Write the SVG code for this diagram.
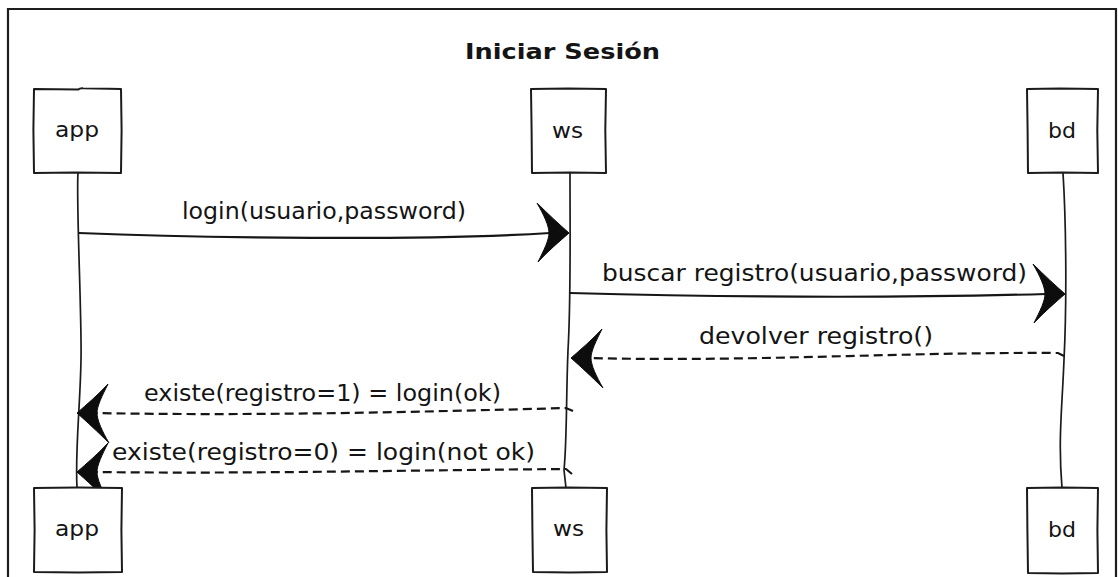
<svg xmlns="http://www.w3.org/2000/svg" xmlns:xlink="http://www.w3.org/1999/xlink" width="1118" height="577" viewBox="0 0 1118 577">
  <style>
    .frame { fill: none; stroke: #1e1e1e; stroke-width: 2.2; }
    .box { fill: #ffffff; stroke: #1b1b1b; stroke-width: 2; stroke-linejoin: round; }
    .life { fill: none; stroke: #1b1b1b; stroke-width: 1.7; }
    .msg { fill: none; stroke: #161616; stroke-width: 2.2; stroke-linecap: round; }
    .ret { fill: none; stroke: #161616; stroke-width: 2.2; stroke-dasharray: 9 5; }
    .head { fill: #0d0d0d; stroke: #0d0d0d; stroke-width: 1; stroke-linejoin: round; }
    text { font-family: "DejaVu Sans", "Liberation Sans", sans-serif; fill: #141414; }
    .title { font-size: 21px; font-weight: bold; }
    .lbl { font-size: 21px; }
    .txt { font-size: 23px; }
  </style>
  <defs>
    <!-- filled swallow-tail arrowhead, tip at origin pointing +x -->
    <path id="arrowhead" d="M -32,-30 C -21,-19 -9,-8 0,0 C -9,8 -21,18 -31,29 C -25,17 -20,7 -20,0 C -20,-7 -25,-18 -32,-30 Z"/>
  </defs>

  <rect x="0" y="0" width="1118" height="577" fill="#ffffff"/>

  <!-- outer frame -->
  <path class="frame" d="M 8,600 L 8,9 L 1116,9 L 1116,600"/>

  <!-- title -->
  <text class="title" x="465" y="59" textLength="195" lengthAdjust="spacingAndGlyphs">Iniciar Sesión</text>

  <!-- lifelines and messages -->
  <g id="connectors">
    <path class="life" d="M 78,173 C 76,200 82,320 81,360 C 80,410 75,450 77,488"/>
    <path class="life" d="M 570,173 C 570,240 571,300 568,350 C 566,400 567,440 564,470 L 566,488"/>
    <path class="life" d="M 1063,173 C 1066,220 1067,300 1064,360 C 1062,410 1058,440 1062,488"/>

    <path class="msg" d="M 79,233 C 200,238 420,241 550,233"/>
    <use class="head" xlink:href="#arrowhead" transform="translate(569,233)"/>

    <path class="msg" d="M 570,293 C 720,297 900,298 1046,294"/>
    <use class="head" xlink:href="#arrowhead" transform="translate(1065,294)"/>

    <path class="ret" d="M 1064,356 L 1058,353 C 900,352 750,362 590,358"/>
    <use class="head" xlink:href="#arrowhead" transform="translate(571,358) rotate(180)"/>

    <path class="ret" d="M 573,411 L 566,408 C 420,412 250,416 96,413"/>
    <use class="head" xlink:href="#arrowhead" transform="translate(77,413) rotate(180)"/>

    <path class="ret" d="M 572,474 L 566,469 C 420,470 250,474 96,472"/>
    <use class="head" xlink:href="#arrowhead" transform="translate(77,472) rotate(180)"/>
  </g>

  <!-- message labels -->
  <text class="txt" x="182" y="219" textLength="284" lengthAdjust="spacingAndGlyphs">login(usuario,password)</text>
  <text class="txt" x="602" y="281" textLength="425" lengthAdjust="spacingAndGlyphs">buscar registro(usuario,password)</text>
  <text class="txt" x="699" y="344" textLength="234" lengthAdjust="spacingAndGlyphs">devolver registro()</text>
  <text class="txt" x="144" y="401" textLength="357" lengthAdjust="spacingAndGlyphs">existe(registro=1) = login(ok)</text>
  <text class="txt" x="112" y="460" textLength="423" lengthAdjust="spacingAndGlyphs">existe(registro=0) = login(not ok)</text>

  <!-- participant boxes, top -->
  <g id="app-top">
    <path class="box" d="M 34,89 L 78,89.6 Q 80,88 83,88.3 L 121,89 L 121.6,130 L 121,173 L 75,172.4 L 34,173 L 33.4,130 Z"/>
    <text class="lbl" x="55" y="137" textLength="44" lengthAdjust="spacingAndGlyphs">app</text>
  </g>
  <g id="ws-top">
    <path class="box" d="M 531,89 L 568,88.4 L 606,89 L 605.3,130 L 606,173 L 570,172.4 L 532,173 L 531.6,130 Z"/>
    <text class="lbl" x="552" y="138" textLength="31" lengthAdjust="spacingAndGlyphs">ws</text>
  </g>
  <g id="bd-top">
    <path class="box" d="M 1027,89 L 1060,88.5 L 1098,89 L 1097.3,130 L 1098,173 L 1062,172.4 L 1028,173 L 1027.6,130 Z"/>
    <text class="lbl" x="1048" y="138" textLength="28" lengthAdjust="spacingAndGlyphs">bd</text>
  </g>

  <!-- participant boxes, bottom -->
  <g id="app-bottom">
    <path class="box" d="M 34,488 L 78,487.6 L 122,488 L 121.4,530 L 122,572 L 78,572.5 L 34,572 L 34.6,530 Z"/>
    <text class="lbl" x="55" y="536" textLength="44" lengthAdjust="spacingAndGlyphs">app</text>
  </g>
  <g id="ws-bottom">
    <path class="box" d="M 532,488 L 568,487.5 L 607,488 L 606.4,530 L 607,572 L 570,572.6 L 533,572 L 532.4,530 Z"/>
    <text class="lbl" x="553" y="536" textLength="31" lengthAdjust="spacingAndGlyphs">ws</text>
  </g>
  <g id="bd-bottom">
    <path class="box" d="M 1027,488 L 1062,487.5 L 1098,488 L 1097.4,530 L 1098,573 L 1062,573.5 L 1028,573 L 1027.4,530 Z"/>
    <text class="lbl" x="1048" y="537" textLength="28" lengthAdjust="spacingAndGlyphs">bd</text>
  </g>
</svg>
